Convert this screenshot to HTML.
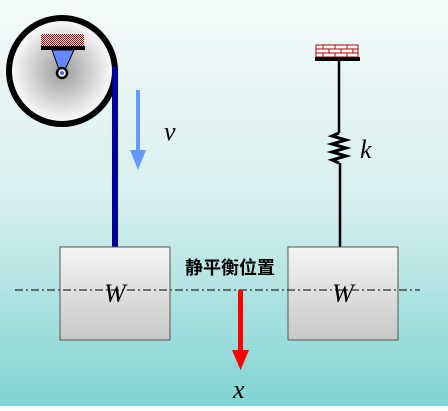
<!DOCTYPE html>
<html><head><meta charset="utf-8"><style>
body{margin:0;width:448px;height:406px;overflow:hidden}
</style></head><body>
<svg width="448" height="406" viewBox="0 0 448 406" xmlns="http://www.w3.org/2000/svg">
<defs>
<linearGradient id="bg" x1="0" y1="0" x2="0" y2="1">
<stop offset="0" stop-color="#f3fbfa"/><stop offset="0.5" stop-color="#d6efee"/><stop offset="1" stop-color="#7fd4d2"/></linearGradient>
<radialGradient id="pul" cx="0.5" cy="0.5" r="0.5">
<stop offset="0" stop-color="#9a9a9a"/><stop offset="1" stop-color="#ffffff"/></radialGradient>
<linearGradient id="box" x1="0" y1="0" x2="0" y2="1">
<stop offset="0" stop-color="#f4f4f4"/><stop offset="1" stop-color="#c8c8c8"/></linearGradient>
<pattern id="chk" width="2" height="2" patternUnits="userSpaceOnUse"><rect width="2" height="2" fill="#fff"/><rect width="1" height="1" fill="#a00"/><rect x="1" y="1" width="1" height="1" fill="#a00"/></pattern>
</defs>
<rect width="448" height="406" fill="url(#bg)"/>
<circle cx="62" cy="71" r="53" fill="url(#pul)" stroke="#000" stroke-width="6"/>
<rect x="41" y="34" width="43" height="12" fill="url(#chk)"/>
<rect x="41" y="46" width="44" height="4" fill="#000"/>
<polygon points="52,50 74,50 64,72 60,72" fill="#6688ff" stroke="#000"/>
<circle cx="62" cy="73" r="5" fill="#fff" stroke="#000" stroke-width="2.5"/>
<circle cx="62" cy="73" r="2" fill="#4466ff"/>
<rect x="112" y="67" width="6" height="181" fill="#00009a"/>
<rect x="136" y="90" width="4" height="60" fill="#6699ff"/>
<polygon points="130,150 146,150 138,170" fill="#6699ff"/>
<text x="164" y="140" font-family="Liberation Serif,serif" font-style="italic" font-size="26">v</text>
<g stroke="#a00" stroke-width="1" fill="#fff">
<rect x="316" y="45" width="42" height="12"/>
<line x1="316" y1="49" x2="358" y2="49"/><line x1="316" y1="53" x2="358" y2="53"/>
<line x1="323" y1="45" x2="323" y2="49"/><line x1="335" y1="45" x2="335" y2="49"/><line x1="347" y1="45" x2="347" y2="49"/>
<line x1="329" y1="49" x2="329" y2="53"/><line x1="341" y1="49" x2="341" y2="53"/><line x1="353" y1="49" x2="353" y2="53"/>
<line x1="323" y1="53" x2="323" y2="57"/><line x1="335" y1="53" x2="335" y2="57"/><line x1="347" y1="53" x2="347" y2="57"/>
</g>
<rect x="315" y="57" width="45" height="4" fill="#000"/>
<line x1="339" y1="60" x2="339" y2="133" stroke="#000" stroke-width="2.5"/>
<polyline points="339,133 332,136 346,140 332,144 346,148 332,152 346,156 332,160 339,163" fill="none" stroke="#000" stroke-width="3"/>
<line x1="340" y1="163" x2="340" y2="248" stroke="#000" stroke-width="2.5"/>
<text x="360" y="158" font-family="Liberation Serif,serif" font-style="italic" font-size="26">k</text>
<rect x="60" y="247" width="110" height="93" fill="url(#box)" stroke="#555"/>
<rect x="288" y="247" width="110" height="93" fill="url(#box)" stroke="#555"/>
<line x1="15" y1="290" x2="420" y2="290" stroke="#000" stroke-width="1" stroke-dasharray="8,3,2,3"/>
<text x="104" y="302" font-family="Liberation Serif,serif" font-style="italic" font-size="26">W</text>
<text x="332" y="302" font-family="Liberation Serif,serif" font-style="italic" font-size="26">W</text>
<text x="185" y="274" font-family="Liberation Sans,'Noto Sans CJK SC',sans-serif" font-weight="bold" font-size="18">静平衡位置</text>
<rect x="238" y="290" width="5" height="62" fill="#ff0000"/>
<polygon points="232,350 249,350 240.5,370" fill="#ff0000"/>
<text x="233" y="398" font-family="Liberation Serif,serif" font-style="italic" font-size="26">x</text>
</svg>
</body></html>
